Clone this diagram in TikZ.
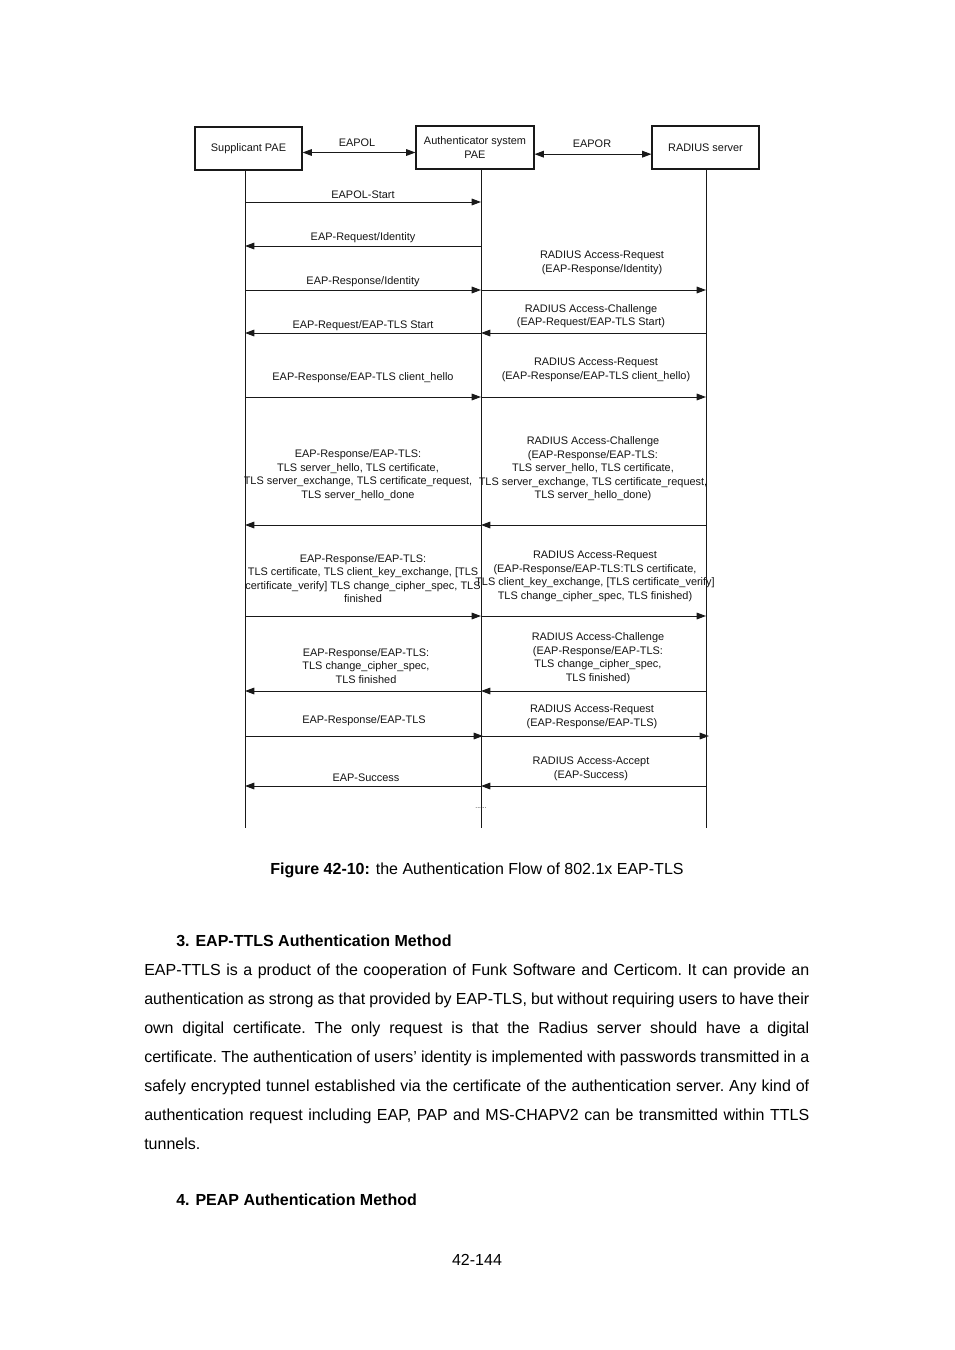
\documentclass[tikz,border=0pt]{standalone}
\usepackage{fontspec}
\setmainfont{Liberation Sans}
\usetikzlibrary{arrows.meta,positioning}
\definecolor{lnclr}{RGB}{25,25,25}
\definecolor{txtclr}{RGB}{20,20,20}
\newcommand{\jline}[1]{\par\noindent\hbox to 498.75pt{#1}\par}
\tikzset{
  entblk/.style={rectangle,draw=lnclr,line width=0.8pt,minimum width=#1,
    minimum height=32.25pt,font=\fontsize{8.2}{10.1}\selectfont,
    align=center,text=txtclr,inner sep=2pt},
  life/.style={line width=0.75pt,draw=lnclr},
  msg/.style={-{Triangle[length=7pt,width=5pt]},line width=0.75pt,draw=lnclr},
  dmsg/.style={{Triangle[length=7pt,width=5pt]}-{Triangle[length=7pt,width=5pt]},
    line width=0.75pt,draw=lnclr},
  lbl/.style={font=\fontsize{8.2}{10.1}\selectfont,align=center,
    inner sep=0pt,text=txtclr},
  body/.style={font=\fontsize{12}{21.75}\selectfont,inner sep=0pt,text=black},
}
\begin{document}
\begin{tikzpicture}[x=0.75pt,y=-0.75pt]
  \path[use as bounding box,fill=white] (0,0) rectangle (954,1350);

  % parties
  \node[entblk=80.25pt] (sup)  at (248.5,148.5) {Supplicant PAE};
  \node[entblk=88.5pt]  (auth) at (475,147.5)   {Authenticator system\\PAE};
  \node[entblk=80.25pt] (rad)  at (705.5,147.5) {RADIUS server};

  \draw[dmsg] ([yshift=-3pt]sup.east) -- ([yshift=-3pt]sup.east -| auth.west);
  \draw[dmsg] ([yshift=-5pt]auth.east) -- ([yshift=-5pt]auth.east -| rad.west);
  \node[lbl] (eapol) at (357,143) {EAPOL};
  \node[lbl] (eapor) at (592,144) {EAPOR};

  % lifelines
  \coordinate (supEnd)  at (245,828);
  \coordinate (authEnd) at (481,828);
  \coordinate (radEnd)  at (706,828);
  \draw[life] (sup.south -| supEnd) -- (supEnd);
  \draw[life] (auth.south -| authEnd) -- (authEnd);
  \draw[life] (rad.south -| radEnd) -- (radEnd);

  \foreach \y [count=\i] in {202,246,290,333,397,525,616,691,736,786} {
    \coordinate (s\i) at (245,\y);
    \coordinate (a\i) at (481,\y);
    \coordinate (r\i) at (706,\y);
  }

  % supplicant <-> authenticator
  \draw[msg] (s1) -- (a1);
  \draw[msg] (a2) -- (s2);
  \draw[msg] (s3) -- (a3);
  \draw[msg] (a4) -- (s4);
  \draw[msg] (s5) -- (a5);
  \draw[msg] (a6) -- (s6);
  \draw[msg] (s7) -- (a7);
  \draw[msg] (a8) -- (s8);
  \draw[msg] (s9) -- ([xshift=1.5pt]a9);
  \draw[msg] (a10) -- (s10);

  % authenticator <-> radius
  \draw[msg] (a3) -- (r3);
  \draw[msg] (r4) -- (a4);
  \draw[msg] (a5) -- (r5);
  \draw[msg] (r6) -- (a6);
  \draw[msg] (a7) -- (r7);
  \draw[msg] (r8) -- (a8);
  \draw[msg] (a9) -- ([xshift=2.25pt]r9);
  \draw[msg] (r10) -- (a10);

  \node[lbl] (l1) at (363,195) {EAPOL-Start};
  \node[lbl] (l2) at (363,238) {EAP-Request/Identity};
  \node[lbl] (l3) at (363,282) {EAP-Response/Identity};
  \node[lbl] (l4) at (363,326) {EAP-Request/EAP-TLS Start};
  \node[lbl] (l5) at (363,378) {EAP-Response/EAP-TLS client\_hello};
  \node[lbl] (l6) at (358,475) {EAP-Response/EAP-TLS:\\TLS server\_hello, TLS certificate,\\
    TLS server\_exchange, TLS certificate\_request,\\TLS server\_hello\_done};
  \node[lbl] (l7) at (363,578.5) {EAP-Response/EAP-TLS:\\TLS certificate, TLS client\_key\_exchange, [TLS\\
    certificate\_verify] TLS change\_cipher\_spec, TLS\\finished};
  \node[lbl] (l8) at (366,666) {EAP-Response/EAP-TLS:\\TLS change\_cipher\_spec,\\TLS finished};
  \node[lbl] (l9) at (364,721) {EAP-Response/EAP-TLS};
  \node[lbl] (l10) at (366,778) {EAP-Success};

  \node[lbl] (q3) at (602,263) {RADIUS Access-Request\\(EAP-Response/Identity)};
  \node[lbl] (q4) at (591,316) {RADIUS Access-Challenge\\(EAP-Request/EAP-TLS Start)};
  \node[lbl] (q5) at (596,370) {RADIUS Access-Request\\(EAP-Response/EAP-TLS client\_hello)};
  \node[lbl] (q6) at (593,469) {RADIUS Access-Challenge\\(EAP-Response/EAP-TLS:\\
    TLS server\_hello, TLS certificate,\\TLS server\_exchange, TLS certificate\_request,\\
    TLS server\_hello\_done)};
  \node[lbl] (q7) at (595,576.5) {RADIUS Access-Request\\(EAP-Response/EAP-TLS:TLS certificate,\\
    TLS client\_key\_exchange, [TLS certificate\_verify]\\TLS change\_cipher\_spec, TLS finished)};
  \node[lbl] (q8) at (598,658) {RADIUS Access-Challenge\\(EAP-Response/EAP-TLS:\\
    TLS change\_cipher\_spec,\\TLS finished)};
  \node[lbl] (q9) at (592,717) {RADIUS Access-Request\\(EAP-Response/EAP-TLS)};
  \node[lbl] (q10) at (591,769) {RADIUS Access-Accept\\(EAP-Success)};

  \node[lbl,font=\fontsize{5}{6}\selectfont] (more) at (481,808) {......};

  % text below the figure
  \node[body] (cap) at (477,870) {\textbf{Figure 42-10:} the Authentication Flow of 802.1x EAP-TLS};
  \node[body,anchor=west,font=\fontsize{12}{14}\selectfont\bfseries] (h3) at (176,941)
    {3. EAP-TTLS Authentication Method};
  \node[body,anchor=north west,text width=498.75pt] (para) at (144,946) {%
    \frenchspacing\spaceskip=0.278em plus 0.5em minus 0.12em\relax
    \jline{EAP-TTLS is a product of the cooperation of Funk Software and Certicom. It can provide an}%
    \jline{authentication as strong as that provided by EAP-TLS, but without requiring users to have their}%
    \jline{own digital certificate. The only request is that the Radius server should have a digital}%
    \jline{certificate. The authentication of users’ identity is implemented with passwords transmitted in a}%
    \jline{safely encrypted tunnel established via the certificate of the authentication server. Any kind of}%
    \jline{authentication request including EAP, PAP and MS-CHAPV2 can be transmitted within TTLS}%
    \noindent tunnels.};
  \node[body,anchor=west,font=\fontsize{12}{14}\selectfont\bfseries] (h4) at (176,1200)
    {4. PEAP Authentication Method};
  \node[body] (pgno) at (477,1260) {42-144};
\end{tikzpicture}
\end{document}
